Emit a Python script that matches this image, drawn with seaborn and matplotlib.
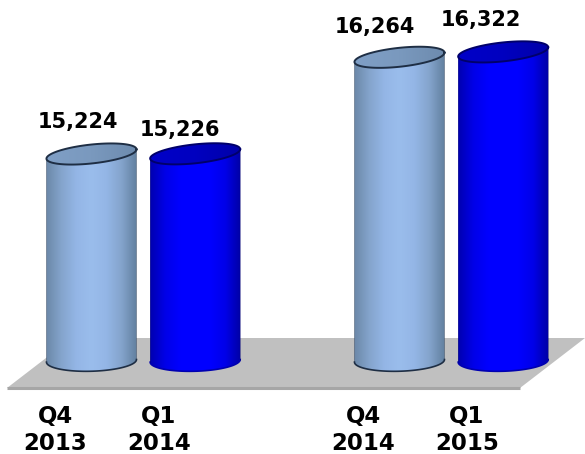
import numpy as np
import pandas as pd
import matplotlib
matplotlib.use("Agg")
import matplotlib.pyplot as plt
from matplotlib.colors import LinearSegmentedColormap
from matplotlib.patches import PathPatch, Polygon
from matplotlib.path import Path
import seaborn as sns

# Deposit totals by quarter
quarters = ["Q4\n2013", "Q1\n2014", "Q4\n2014", "Q1\n2015"]
values = [15224, 15226, 16264, 16322]
series = ["prior", "current", "prior", "current"]

# Layout helpers, kept apart from the data
slots = [0, 1, 2.97, 3.97]
label_offsets = [(-10, 23), (-11, 17), (-18, 22), (-16, 23)]
BASELINE = 13000
ELLIPSE_B = 102   # half height of the top ring, in value units
ELLIPSE_S = 50    # tilt of the top ring, in value units
FOOT_B = 112      # half height of the bottom ring
FOOT_S = 14       # tilt of the bottom ring

palette = {"prior": "#99BBEE", "current": "#0000FF"}
body_stops = {
    "prior": ["#6B88A8", "#84A4CC", "#94B6E6", "#9ABDEC", "#94B6E6", "#84A4CC", "#62809F"],
    "current": ["#0000B0", "#0000E8", "#0000FF", "#0000FF", "#0000FF", "#0000E8", "#0000A4"],
}
cap_stops = {
    "prior": ["#7F9FC6", "#7A99BE", "#6D8BAE"],
    "current": ["#0000C8", "#0000C0", "#0000A8"],
}
edge_colors = {"prior": "#1E2E44", "current": "#00006A"}
rim_colors = {"prior": "#1E2E44", "current": "#0000B0"}

W, H = 585, 454
fig = plt.figure(figsize=(W / 100, H / 100), dpi=100, facecolor="white")
ax = fig.add_axes([0, 1 - 397 / H, 1, 397 / H])

df = pd.DataFrame({"slot": slots, "value": values, "series": series})
sns.barplot(data=df, x="slot", y="value", hue="series", palette=palette,
            native_scale=True, dodge=False, width=0.868, legend=False, ax=ax)
bars = sorted(ax.patches, key=lambda p: p.get_x())

xlim = (-0.882, 4.759)
ylim = (12611, 16880)

# Grey floor the cylinders stand on
floor = Polygon([(7 / W, 9 / 397), (520 / W, 9 / 397), (1.0, 59 / 397), (72 / W, 59 / 397)],
                closed=True, transform=ax.transAxes, facecolor="#C0C0C0",
                edgecolor="none", zorder=0)
ax.add_patch(floor)
ax.plot([7 / W, 520 / W], [9 / 397, 9 / 397], transform=ax.transAxes,
        color="#A6A6A6", lw=2.2, zorder=0.5, solid_capstyle="butt")

t_top = np.linspace(0, 2 * np.pi, 121)

for bar, kind, top_value, (dx, dy) in zip(bars, series, values, label_offsets):
    cx = bar.get_x() + bar.get_width() / 2
    a = bar.get_width() / 2
    top = bar.get_height()
    bar.set_visible(False)

    def ring(center, t, half_height, tilt):
        return cx + a * np.cos(t), center + half_height * np.sin(t) + tilt * np.cos(t)

    # Cylinder wall: lower half of the bottom ring joined to the lower half of the top ring
    lower = np.linspace(np.pi, 2 * np.pi, 60)
    bx, by = ring(BASELINE, lower, FOOT_B, FOOT_S)
    tx, ty = ring(top, lower[::-1], ELLIPSE_B, ELLIPSE_S)
    wall_xy = np.column_stack([np.r_[bx, tx], np.r_[by, ty]])
    wall_path = Path(np.vstack([wall_xy, wall_xy[:1]]), closed=True)
    wall = PathPatch(wall_path, transform=ax.transData, facecolor="none", edgecolor="none")
    ax.add_patch(wall)
    shade = LinearSegmentedColormap.from_list(kind, body_stops[kind])
    img = ax.imshow(np.linspace(0, 1, 200)[None, :], cmap=shade, aspect="auto",
                    extent=(cx - a, cx + a, BASELINE - 200, top + 200), zorder=2)
    img.set_clip_path(wall)

    # Wall sides and bottom rim
    ax.plot(bx, by, color=rim_colors[kind], lw=1.2, zorder=3)
    ax.plot([cx - a, cx - a], [by[0], ty[-1]], color=edge_colors[kind], lw=0.5, alpha=0.5, zorder=3)
    ax.plot([cx + a, cx + a], [by[-1], ty[0]], color=edge_colors[kind], lw=0.5, alpha=0.5, zorder=3)

    # Top opening
    ex, ey = ring(top, t_top, ELLIPSE_B, ELLIPSE_S)
    cap = PathPatch(Path(np.column_stack([ex, ey])), transform=ax.transData,
                    facecolor="none", edgecolor="none")
    ax.add_patch(cap)
    cap_shade = LinearSegmentedColormap.from_list(kind + "_cap", cap_stops[kind])
    cap_img = ax.imshow(np.linspace(0, 1, 100)[None, :], cmap=cap_shade, aspect="auto",
                        extent=(cx - a, cx + a, top - 200, top + 200), zorder=4)
    cap_img.set_clip_path(cap)
    ax.plot(ex, ey, color=edge_colors[kind], lw=1.4, zorder=5)

    ax.annotate(f"{top_value:,}", xy=(cx, top), xytext=(dx, dy), textcoords="offset points",
                ha="center", va="center", fontsize=15, fontweight="bold",
                color="black", zorder=6)

ax.set_xlim(*xlim)
ax.set_ylim(*ylim)
ax.set_xticks([s - 0.35 for s in slots], quarters)
ax.tick_params(axis="x", length=0, pad=6, labelsize=16.5)
for lab in ax.get_xticklabels():
    lab.set_fontweight("bold")
    lab.set_linespacing(1.2)
ax.set_xlabel("")
ax.set_ylabel("")
ax.yaxis.set_visible(False)
ax.patch.set_alpha(0)
sns.despine(ax=ax, left=True, bottom=True)

fig.savefig("out.png", dpi=100)
